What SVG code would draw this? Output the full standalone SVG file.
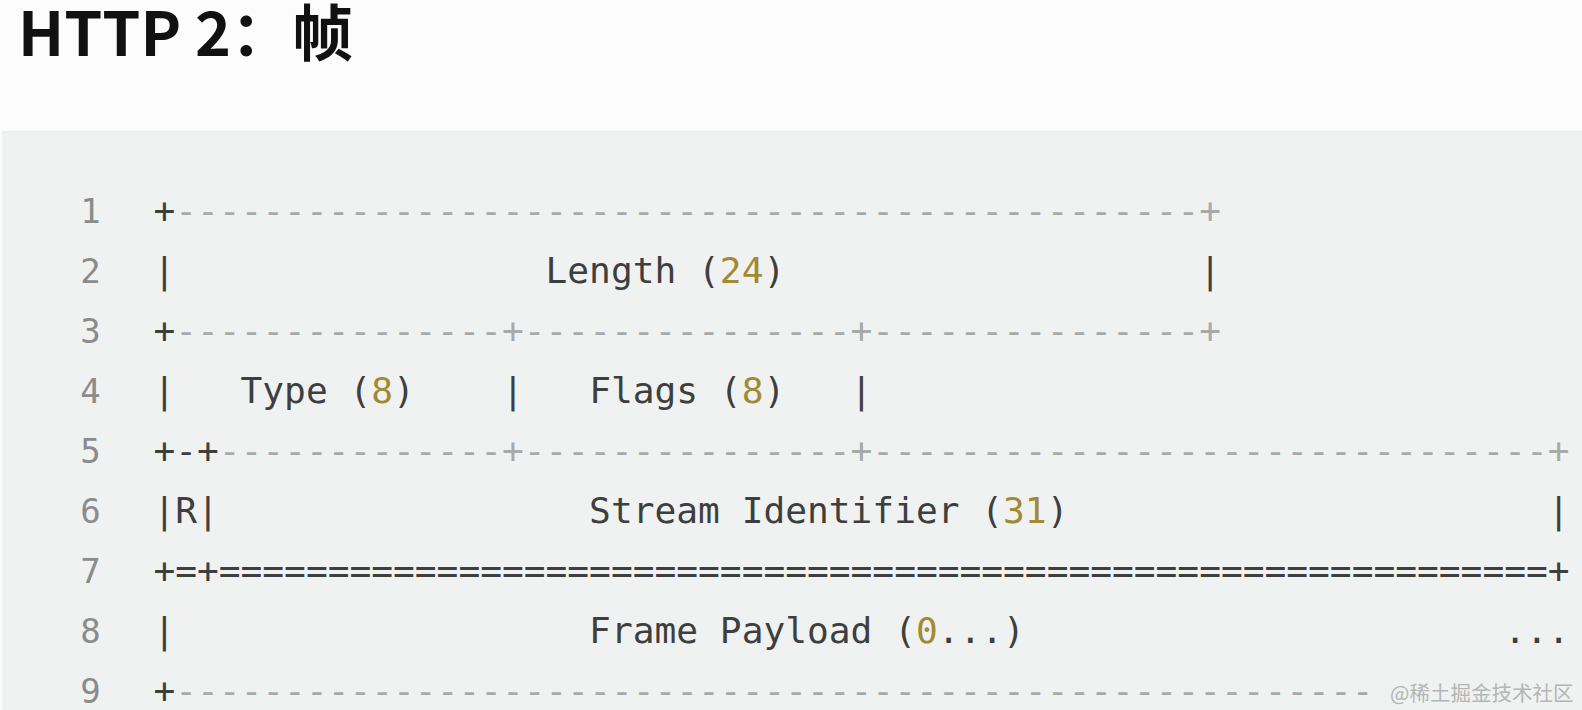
<svg xmlns="http://www.w3.org/2000/svg" width="1582" height="710" viewBox="0 0 1582 710">
<style>
.code{font-family:"DejaVu Sans Mono","Liberation Mono",monospace;font-size:36.2px;white-space:pre;fill:#3d3f3f}
.g{fill:#a8aaaa}
.y{fill:#a08a33}
.num{font-family:"DejaVu Sans Mono","Liberation Mono",monospace;font-size:34px;fill:#8a8c8c;text-anchor:middle}
.title{font-family:"Noto Sans CJK SC","Noto Sans",sans-serif;font-size:61px;font-weight:700;fill:#111}
.wm{font-family:"Noto Sans CJK SC",sans-serif;font-size:20.5px;fill:#b4b6b6}
</style>
<defs>
<linearGradient id="sh" x1="0" y1="0" x2="0" y2="1">
<stop offset="0" stop-color="#e9ecea"/>
<stop offset="1" stop-color="#eff2f1"/>
</linearGradient>
</defs>
<rect width="1582" height="710" fill="#fcfcfc"/>
<rect x="2" y="131" width="1580" height="579" fill="#eff2f1"/>
<rect x="2" y="131" width="1580" height="4" fill="url(#sh)"/>
<g id="title"><text class="title" x="18" y="56">HTTP 2：帧</text></g>
<g id="line-numbers">
<text class="num" x="90.5" y="222.7">1</text>
<text class="num" x="90.5" y="282.7">2</text>
<text class="num" x="90.5" y="342.7">3</text>
<text class="num" x="90.5" y="402.7">4</text>
<text class="num" x="90.5" y="462.7">5</text>
<text class="num" x="90.5" y="522.7">6</text>
<text class="num" x="90.5" y="582.7">7</text>
<text class="num" x="90.5" y="642.7">8</text>
<text class="num" x="90.5" y="702.7">9</text>
</g>
<g id="frame">
<text class="code" x="153.4" y="222.7">+<tspan class="g">-----------------------------------------------+</tspan></text>
<text class="code" x="153.4" y="282.7">|                 Length (<tspan class="y">24</tspan>)                   |</text>
<text class="code" x="153.4" y="342.7">+<tspan class="g">---------------+---------------+---------------+</tspan></text>
<text class="code" x="153.4" y="402.7">|   Type (<tspan class="y">8</tspan>)    |   Flags (<tspan class="y">8</tspan>)   |</text>
<text class="code" x="153.4" y="462.7">+-+<tspan class="g">-------------+---------------+-------------------------------+</tspan></text>
<text class="code" x="153.4" y="522.7">|R|                 Stream Identifier (<tspan class="y">31</tspan>)                      |</text>
<text class="code" x="153.4" y="582.7">+=+=============================================================+</text>
<text class="code" x="153.4" y="642.7">|                   Frame Payload (<tspan class="y">0</tspan>...)                      ...</text>
<text class="code" x="153.4" y="702.7">+<tspan class="g">-------------------------------------------------------</tspan></text>
</g>
<g id="watermark"><text class="wm" x="1390" y="701">@稀土掘金技术社区</text></g>
</svg>
